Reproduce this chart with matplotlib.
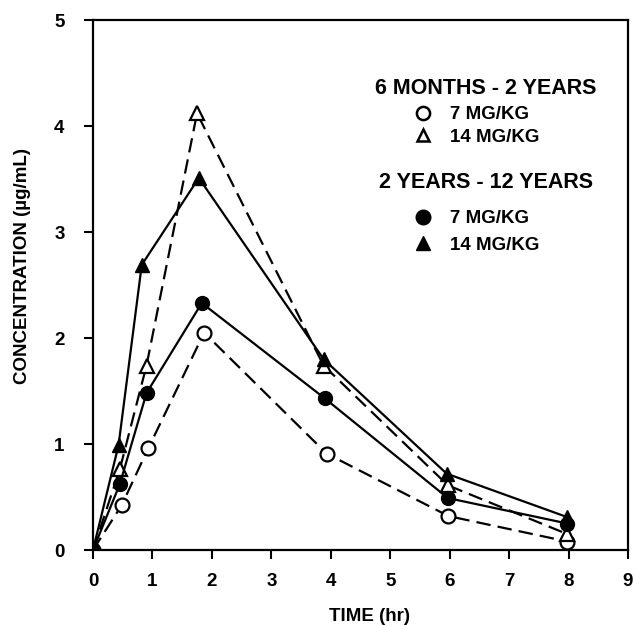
import matplotlib
matplotlib.use("Agg")
import matplotlib.pyplot as plt
from matplotlib.lines import Line2D

plt.rcParams['font.family'] = ['Liberation Sans', 'DejaVu Sans']
plt.rcParams['font.weight'] = 'bold'

# 6 months - 2 years (open markers, dashed)
t_young_7 = [0, 0.48, 0.93, 1.87, 3.93, 5.98, 7.98]
c_young_7 = [0, 0.42, 0.96, 2.05, 0.91, 0.32, 0.08]
t_young_14 = [0, 0.45, 0.90, 1.75, 3.88, 5.97, 7.98]
c_young_14 = [0, 0.76, 1.74, 4.12, 1.74, 0.61, 0.15]

# 2 years - 12 years (filled markers, solid)
t_old_7 = [0, 0.45, 0.90, 1.83, 3.90, 5.97, 7.98]
c_old_7 = [0, 0.62, 1.48, 2.33, 1.43, 0.49, 0.25]
t_old_14 = [0, 0.43, 0.82, 1.78, 3.88, 5.95, 7.98]
c_old_14 = [0, 0.99, 2.69, 3.51, 1.80, 0.72, 0.31]

group_titles = ['6 MONTHS - 2 YEARS', '2 YEARS - 12 YEARS']
dose_labels = ['7 MG/KG', '14 MG/KG']

dash = (0, (6.5, 3.2))

fig = plt.figure(figsize=(6.34, 6.26), dpi=100)
ax = fig.add_axes([0.1467, 0.1214, 0.8438, 0.8466])

ax.plot(t_young_7, c_young_7, color='black', lw=1.6, ls=dash, marker='o',
        ms=10, mfc='white', mec='black', mew=1.6, zorder=3)
ax.plot(t_young_14, c_young_14, color='black', lw=1.6, ls=dash, marker='^',
        ms=10, mfc='white', mec='black', mew=1.6, zorder=3)
ax.plot(t_old_7, c_old_7, color='black', lw=1.6, ls='-', marker='o',
        ms=10, mfc='black', mec='black', zorder=4)
ax.plot(t_old_14, c_old_14, color='black', lw=1.6, ls='-', marker='^',
        ms=10, mfc='black', mec='black', zorder=4)

ax.set_xlim(0, 9)
ax.set_ylim(0, 5)
ax.set_xticks(range(0, 10))
ax.set_yticks(range(0, 6))
ax.tick_params(direction='out', length=6.5, width=1.5, labelsize=13.5)
ax.tick_params(axis='x', pad=10)
ax.tick_params(axis='y', pad=14)
for lab in ax.get_xticklabels() + ax.get_yticklabels():
    lab.set_fontweight('bold')
for sp in ax.spines.values():
    sp.set_linewidth(1.6)

ax.set_xlabel('TIME (hr)', fontsize=13.5, fontweight='bold')
ax.set_ylabel('CONCENTRATION (\u00b5g/mL)', fontsize=13.5, fontweight='bold')
ax.xaxis.set_label_coords(0.516, -0.11)
ax.yaxis.set_label_coords(-0.116, 0.536)

# legend: group titles as text, dose entries as marker-only legends
ax.text(0.7346, 0.8717, group_titles[0], transform=ax.transAxes, ha='center',
        va='center', fontsize=15.5, fontweight='bold')
ax.text(0.7346, 0.694, group_titles[1], transform=ax.transAxes, ha='center',
        va='center', fontsize=15.5, fontweight='bold')

h1 = [Line2D([], [], ls='none', marker='o', ms=9.5, mfc='white', mec='black', mew=1.8),
      Line2D([], [], ls='none', marker='^', ms=9, mfc='white', mec='black', mew=1.8)]
h2 = [Line2D([], [], ls='none', marker='o', ms=10.5, mfc='black', mec='black'),
      Line2D([], [], ls='none', marker='^', ms=10, mfc='black', mec='black')]

leg1 = ax.legend(h1, dose_labels, loc='center', bbox_to_anchor=(0.715, 0.800),
                 frameon=False, prop={'size': 13.5, 'weight': 'bold'},
                 handlelength=1.2, handletextpad=0.8, labelspacing=0.28,
                 borderpad=0)
ax.add_artist(leg1)

leg2 = ax.legend(h2, dose_labels, loc='center', bbox_to_anchor=(0.715, 0.600),
                 frameon=False, prop={'size': 13.5, 'weight': 'bold'},
                 handlelength=1.2, handletextpad=0.8, labelspacing=0.5,
                 borderpad=0)

fig.savefig('out.png', dpi=100)
